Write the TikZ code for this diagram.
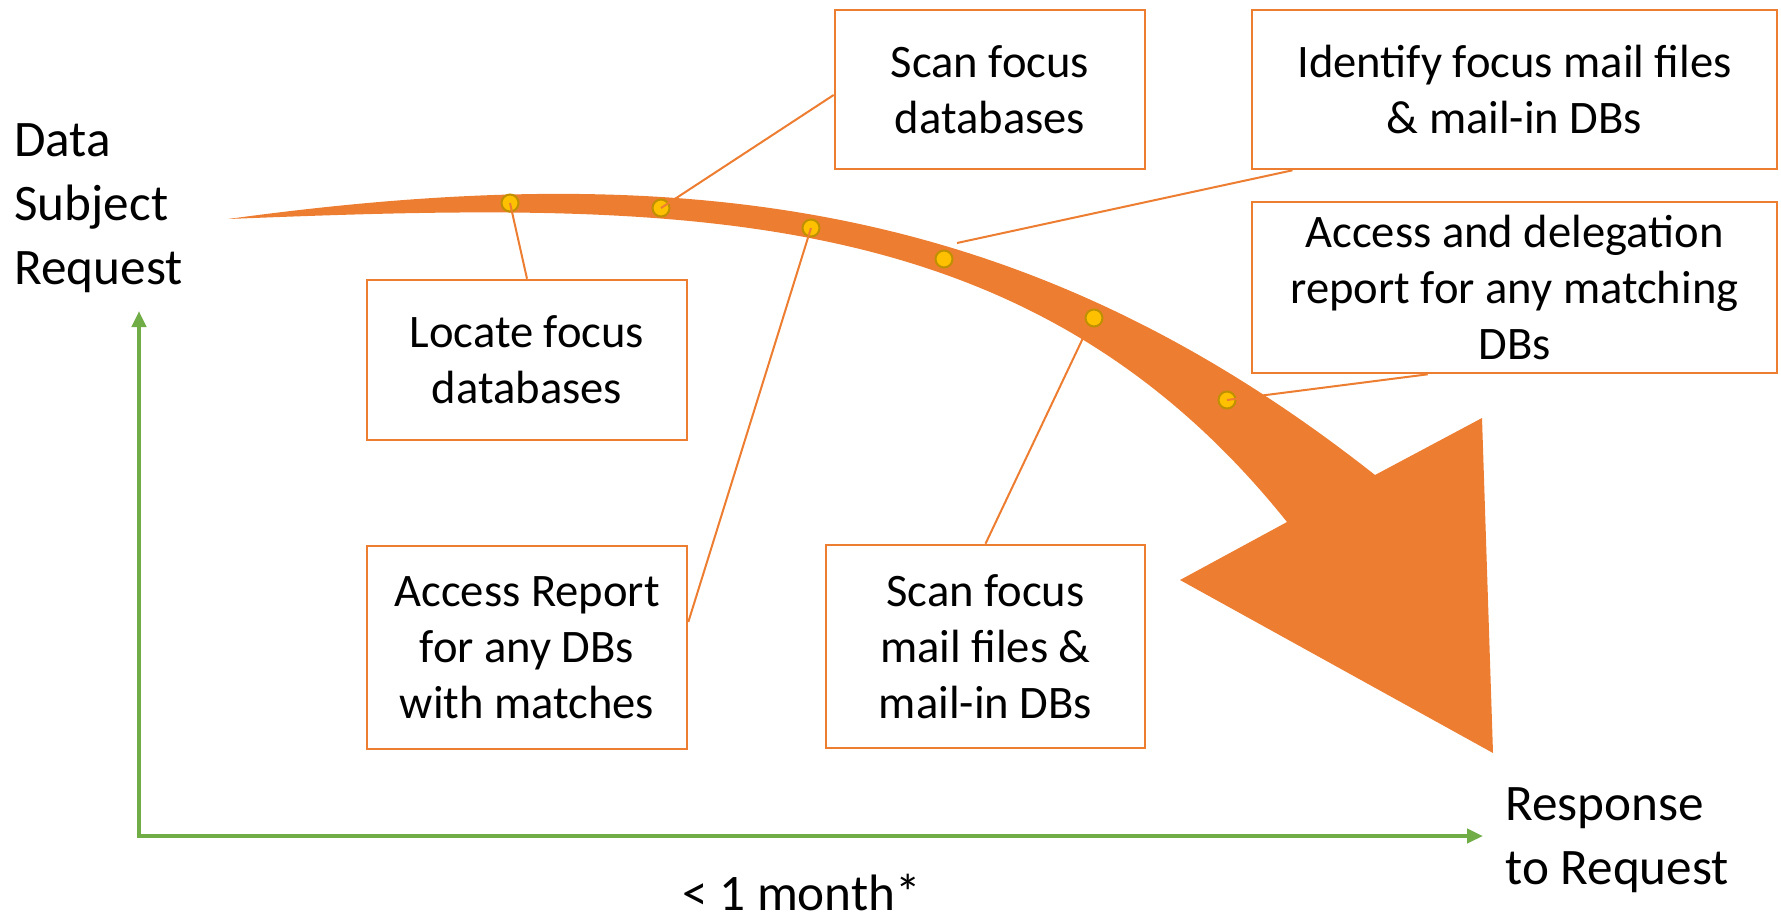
\documentclass[tikz,border=0pt]{standalone}
\usepackage{fontspec}
\setmainfont{Carlito}
\usetikzlibrary{arrows.meta}
\definecolor{bandorange}{HTML}{ED7D31}
\definecolor{dotyellow}{HTML}{FFC000}
\definecolor{dotrim}{HTML}{BF9000}
\definecolor{axisgreen}{HTML}{70AD47}

\begin{document}
\begin{tikzpicture}[
x=0.5pt, y=-0.5pt,
taskbox/.style={rectangle, draw=bandorange, line width=1.3pt, fill=white, inner sep=0pt, align=center, font=\fontsize{23.3}{28}\selectfont},
endlabel/.style={inner sep=0pt, align=left, font=\fontsize{25.6}{32}\selectfont},
milestone/.style={circle, draw=dotrim, fill=dotyellow, line width=1pt, minimum size=8.5pt, inner sep=0pt},
leader/.style={draw=bandorange, line width=1pt},
timeline/.style={draw=axisgreen, line width=2pt, {Triangle[length=8pt,width=7pt]}-{Triangle[length=8pt,width=7pt]}}
]
\useasboundingbox (0,0) rectangle (1781,917);

%Labels
\node[endlabel, anchor=west] (dsr) at (14,208.5) {Data\\Subject\\Request};
\node[endlabel, anchor=west] (resp) at (1505,840) {Response\\to Request};
\node[endlabel, anchor=base west] (limit) at (682,910) {< 1 month*};

%Timeline
\coordinate (ytop) at (139,311);
\coordinate (xend) at (1483,836);
\draw[timeline] (ytop) |- (xend);

%Band
\fill[bandorange] (228,219) .. controls (681,157) and (1024,198) .. (1375,475)
  -- (1482,418) -- (1493,753) -- (1180,580) -- (1287,522)
  .. controls (1027,197) and (678,201) .. (228,219) -- cycle;

%Dots
\foreach \n/\x/\y in {d1/510/203, d2/661/208, d3/811/228, d4/944/259, d5/1094/318, d6/1227/400}
  \node[milestone] (\n) at (\x,\y) {};

%Nodes
\node[taskbox, minimum width=155pt, minimum height=79.5pt] (scandb) at (990,89.5) {Scan focus\\databases};
\node[taskbox, minimum width=262.5pt, minimum height=79.5pt] (ident) at (1514.5,89.5) {Identify focus mail files\\\& mail-in DBs};
\node[taskbox, minimum width=262.5pt, minimum height=85.5pt] (deleg) at (1514.5,287.5) {Access and delegation\\report for any matching\\DBs};
\node[taskbox, minimum width=160pt, minimum height=80pt] (locate) at (527,360) {Locate focus\\databases};
\node[taskbox, minimum width=160pt, minimum height=101.5pt] (accrep) at (527,647.5) {Access Report\\for any DBs\\with matches};
\node[taskbox, minimum width=159.5pt, minimum height=101.5pt] (scanmail) at (985.5,646.5) {Scan focus\\mail files \&\\mail-in DBs};

%Leaders
\coordinate (d4edge) at (957,243);
\coordinate (d5edge) at (1083,338);
\foreach \i/\j in {locate.north/d1.center, scandb.182/d2.center, accrep.9/d3.center, ident.200/d4edge, scanmail.north/d5edge, deleg.225/d6.center}
  \draw[leader] (\i) -- (\j);
\end{tikzpicture}
\end{document}
